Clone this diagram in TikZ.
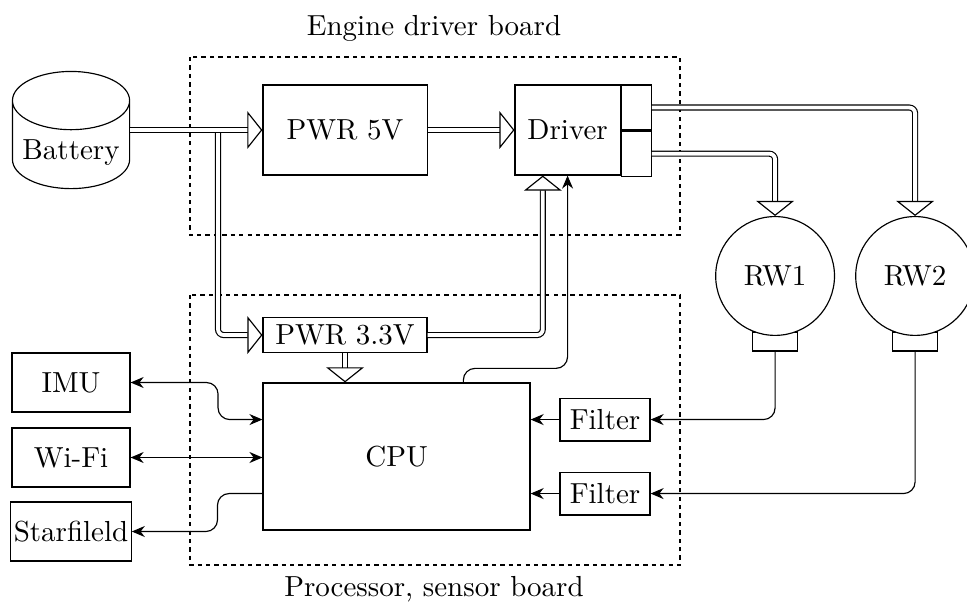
\documentclass[tikz,border=0pt]{standalone}
\usetikzlibrary{shapes.geometric,arrows.meta}
\begin{document}
\begin{tikzpicture}[
  block/.style={draw, minimum width=1.99cm, minimum height=1.09cm},
  sidebox/.style={draw, minimum width=1.43cm, minimum height=0.715cm, inner sep=1pt},
  filterbox/.style={draw, minimum width=1.09cm, minimum height=0.52cm, inner sep=1pt},
  outbox/.style={draw, minimum width=0.364cm, minimum height=0.545cm, inner sep=0pt},
  wheel/.style={draw, circle, minimum size=1.44cm, inner sep=0pt},
  plug/.style={draw, minimum width=0.545cm, minimum height=0.23cm, inner sep=0pt},
  board/.style={draw, dash pattern=on 1.5pt off 1.4pt},
  power/.style={double, double distance=1.3pt, -{Triangle[open,length=5.2pt,width=13pt]}, rounded corners=2pt},
  signal/.style={-{Stealth[length=4.5pt,width=3.8pt]}, rounded corners},
  bisignal/.style={{Stealth[length=4.5pt,width=3.8pt]}-{Stealth[length=4.5pt,width=3.8pt]}, rounded corners}
]
  \useasboundingbox (0,0) rectangle (11.72,-7.333);

  \draw[board] (2.303,-0.691) rectangle (8.242,-2.848);
  \draw[board] (2.303,-3.576) rectangle (8.242,-6.848);
  \node (enginelbl) at (5.26,-0.34) {Engine driver board};
  \node (proclbl) at (5.26,-7.14) {Processor, sensor board};

  \node[draw, cylinder, shape border rotate=90, aspect=0.5, minimum width=1.42cm,
    minimum height=1.42cm, anchor=shape center] (battery) at (0.861,-1.576) {Battery};
  \node[block] (pwr5) at (4.182,-1.576) {PWR 5V};
  \node[block, minimum width=1.273cm] (driver) at (6.879,-1.576) {Driver};
  \node[outbox, anchor=north west] (outa) at (driver.north east) {};
  \node[outbox, anchor=north west] (outb) at (outa.south west) {};

  \node[draw, minimum width=1.988cm, minimum height=0.424cm, inner sep=1pt] (pwr33) at (4.182,-4.061) {PWR 3.3V};
  \node[draw, minimum width=3.236cm, minimum height=1.782cm] (cpu) at (4.806,-5.533) {CPU};
  \node[sidebox] (imu) at (0.861,-4.636) {IMU};
  \node[sidebox] (wifi) at (0.861,-5.545) {Wi-Fi};
  \node[sidebox] (star) at (0.861,-6.442) {Starfileld};
  \node[filterbox] (filter1) at (7.333,-5.085) {Filter};
  \node[filterbox] (filter2) at (7.333,-5.982) {Filter};

  \node[plug] (plug1) at (9.394,-4.139) {};
  \node[plug] (plug2) at (11.091,-4.139) {};
  \node[wheel, fill=white] (rw1) at (9.394,-3.345) {RW1};
  \node[wheel, fill=white] (rw2) at (11.091,-3.345) {RW2};

  \coordinate (split) at (2.642,-1.576);

  \draw[power] (split) |- (pwr33.west);
  \draw[power] (battery.east |- pwr5.west) -- (pwr5.west);
  \draw[power] (pwr5) -- (driver);
  \draw[power] (pwr33.east) -| ([xshift=-0.3cm]driver.south);
  \draw[power] (pwr33.south) -- (pwr33.south |- cpu.north);
  \draw[signal] ([xshift=0.81cm]cpu.north) -- ++(0,0.17) -| (driver.south);
  \draw[power] (outa.east) -| (rw2.north);
  \draw[power] (outb.east) -| (rw1.north);

  \draw[bisignal] (imu.east) -- ++(1.06,0) |- (cpu.west |- filter1.west);
  \draw[bisignal] (wifi.east) -- (wifi.east -| cpu.west);
  \draw[signal] (cpu.west |- filter2.west) -- ++(-0.545,0) |- (star.east);

  \draw[signal] (filter1.west) -- (filter1.west -| cpu.east);
  \draw[signal] (filter2.west) -- (filter2.west -| cpu.east);
  \draw[signal] (plug1.south) |- (filter1.east);
  \draw[signal] (plug2.south) |- (filter2.east);
\end{tikzpicture}
\end{document}
